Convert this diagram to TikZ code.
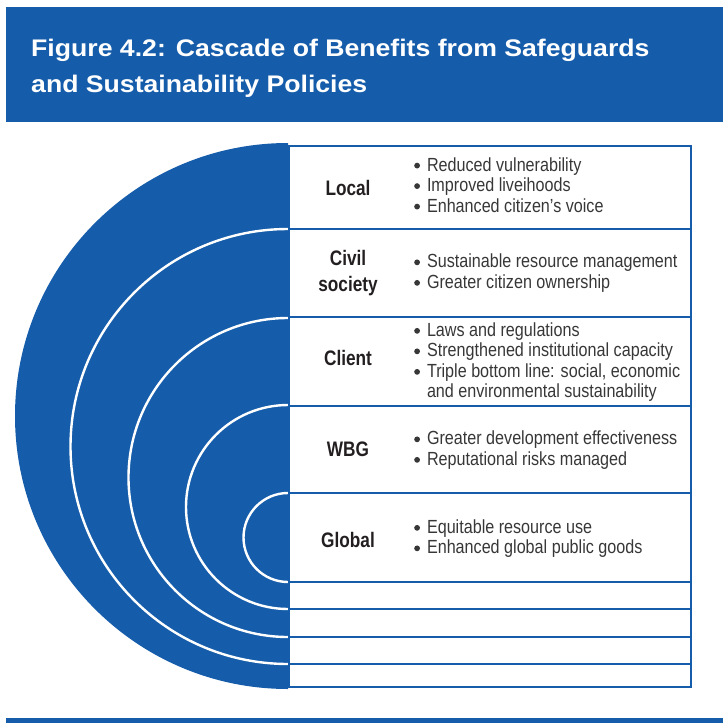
\documentclass[tikz,border=0pt]{standalone}
\usepackage{fontspec}
\setmainfont{Liberation Sans}
\newfontfamily\titlefont[FakeStretch=1.11]{Liberation Sans}
\newfontfamily\labfont[FakeStretch=0.82]{Liberation Sans}
\newfontfamily\bulfont[FakeStretch=0.85]{Liberation Sans}
\definecolor{wbblue}{RGB}{21,92,170}
\definecolor{labtext}{RGB}{35,31,32}
\definecolor{bultext}{RGB}{55,55,55}
\tikzset{
  titletext/.style={anchor=base west, inner sep=0pt, text=white, font=\titlefont\bfseries\fontsize{24}{28}\selectfont},
  rowlabel/.style={anchor=center, inner sep=0pt, align=center, text=labtext, font=\labfont\bfseries\fontsize{21}{26}\selectfont},
  bullets/.style={anchor=west, inner sep=0pt, text=bultext, font=\bulfont\fontsize{19}{20.5}\selectfont},
  rowline/.style={draw=wbblue, line width=2pt},
  ring/.style={draw=white, line width=2.4pt}
}
\newcommand{\bl}{\tikz[baseline=-5.5pt]\fill[bultext] (0,0) circle (2.9pt);}
\begin{document}
\begin{tikzpicture}[x=1pt,y=-1pt]
\useasboundingbox (0,0) rectangle (723,723);
% header
\fill[wbblue] (5.5,7) rectangle (723,122);
\node[titletext] (title1) at (31,56) {Figure 4.2: Cascade of Benefits from Safeguards};
\node[titletext] (title2) at (31,92) {and Sustainability Policies};
% half disk with rings
\begin{scope}
  \clip (0,130) rectangle (288,700);
  \fill[wbblue] (288,416) circle[radius=273];
  \draw[ring] (288,446.5) circle[radius=217.5];
  \draw[ring] (288,477.5) circle[radius=159.5];
  \draw[ring] (288,507) circle[radius=102];
  \draw[ring] (288,537.5) circle[radius=44.5];
\end{scope}
% table
\draw[rowline] (289,146) rectangle (691,687);
\foreach \yy in {229,317,406,493,582,609,637,664}
  \draw[rowline] (289,\yy) -- (691,\yy);
% labels
\node[rowlabel] (local) at (348,188) {Local};
\node[rowlabel] (civil) at (348,273) {Civil\\society};
\node[rowlabel] (client) at (348,358) {Client};
\node[rowlabel] (wbg) at (348,449) {WBG};
\node[rowlabel] (global) at (348,540) {Global};
% bullets
\node[bullets] (blocal) at (414,187.5) {\begin{tabular}{@{}l@{\hspace{7pt}}l@{}}
\bl & Reduced vulnerability\\
\bl & Improved liveihoods\\
\bl & Enhanced citizen’s voice
\end{tabular}};
\node[bullets] (bcivil) at (414,274) {\begin{tabular}{@{}l@{\hspace{7pt}}l@{}}
\bl & Sustainable resource management\\
\bl & Greater citizen ownership
\end{tabular}};
\node[bullets] (bclient) at (414,363) {\begin{tabular}{@{}l@{\hspace{7pt}}l@{}}
\bl & Laws and regulations\\
\bl & Strengthened institutional capacity\\
\bl & Triple bottom line: social, economic\\
 & and environmental sustainability
\end{tabular}};
\node[bullets] (bwbg) at (414,451) {\begin{tabular}{@{}l@{\hspace{7pt}}l@{}}
\bl & Greater development effectiveness\\
\bl & Reputational risks managed
\end{tabular}};
\node[bullets] (bglobal) at (414,539.5) {\begin{tabular}{@{}l@{\hspace{7pt}}l@{}}
\bl & Equitable resource use\\
\bl & Enhanced global public goods
\end{tabular}};
% bottom bar
\fill[wbblue] (5.5,717.5) rectangle (723,723);
\end{tikzpicture}
\end{document}
